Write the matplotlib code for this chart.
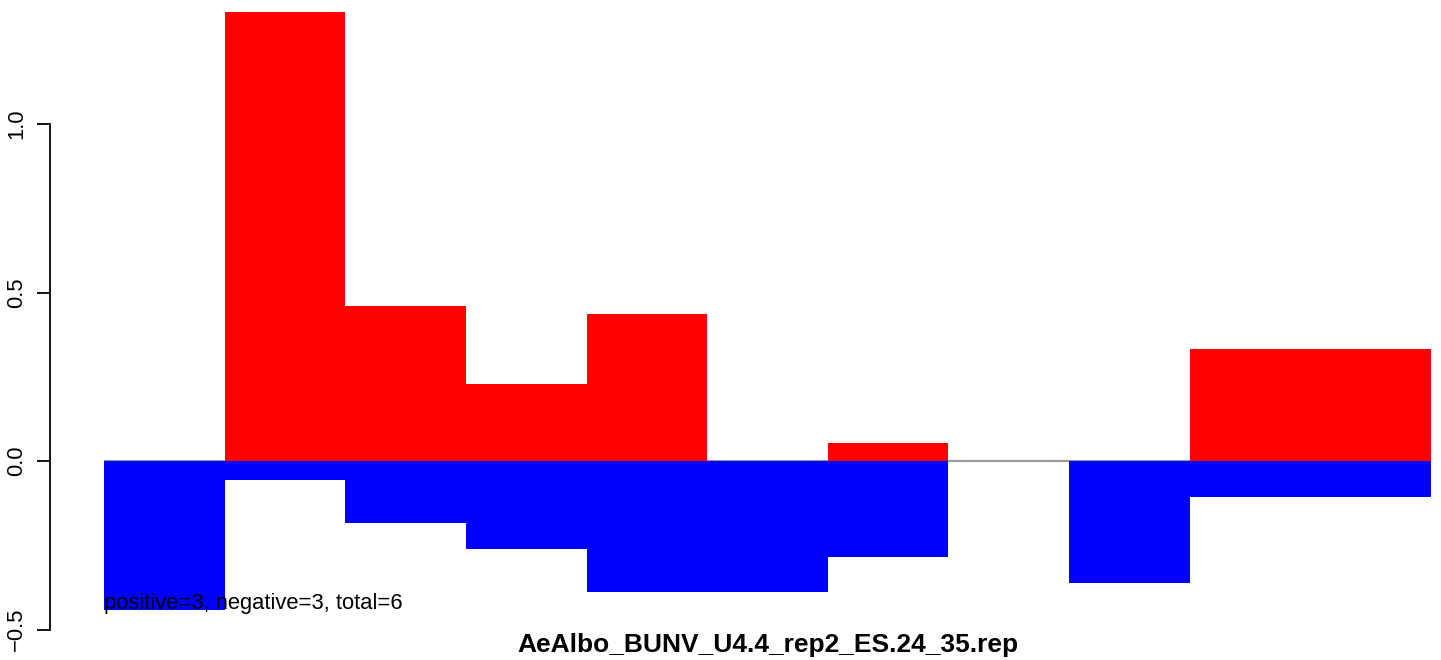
import matplotlib
matplotlib.use("Agg")
import matplotlib.pyplot as plt
import numpy as np

plt.rcParams['font.family'] = ['Liberation Sans', 'DejaVu Sans']

# значения столбцов (11 окон)
positive = [0.0, 1.332, 0.460, 0.229, 0.436, 0.0, 0.052, 0.0, 0.0, 0.332, 0.332]
negative = [-0.442, -0.056, -0.183, -0.261, -0.388, -0.388, -0.285, 0.0, -0.361, -0.106, -0.106]
y_ticks = [-0.5, 0.0, 0.5, 1.0]
y_ticklabels = ['-0.5', '0.0', '0.5', '1.0']
note = 'positive=3, negative=3, total=6'
title = 'AeAlbo_BUNV_U4.4_rep2_ES.24_35.rep'

W, H = 1441, 660
fig = plt.figure(figsize=(W / 100, H / 100), dpi=100)

# область графика в пикселях
left_px, right_px = 104, 1431
top_px, bottom_px = 6, 646
ax = fig.add_axes([left_px / W, (H - bottom_px) / H,
                   (right_px - left_px) / W, (bottom_px - top_px) / H])

x = np.arange(len(positive))
ax.axhline(0, color='#9A9A9A', lw=1.5, zorder=1)
ax.bar(x, positive, width=1.0, align='edge', color='#FF0000', lw=0, zorder=2)
ax.bar(x, negative, width=1.0, align='edge', color='#0000FF', lw=0, zorder=2)

ax.set_xlim(0, len(positive))
ax.set_ylim(-(bottom_px - 461) / 337, (461 - top_px) / 337)

for s in ['top', 'right', 'bottom']:
    ax.spines[s].set_visible(False)
ax.spines['left'].set_position(('outward', (left_px - 50) * 0.72))
ax.spines['left'].set_bounds(-0.5, 1.0)
ax.spines['left'].set_linewidth(1.3)
ax.set_xticks([])
ax.set_yticks(y_ticks)
ax.set_yticklabels([t.replace('-', '\u2212') for t in y_ticklabels],
                   rotation=90, va='center', fontsize=15.8)
ax.tick_params(axis='y', length=13 * 0.72, width=1.3, pad=7)

ax.text(0, -0.439, note, fontsize=15.8, ha='left', va='baseline', zorder=3)
fig.text((left_px + right_px) / 2 / W, (H - 645) / H, title,
         fontsize=19, fontweight='bold', ha='center', va='center')

fig.savefig('out.png', dpi=100)
